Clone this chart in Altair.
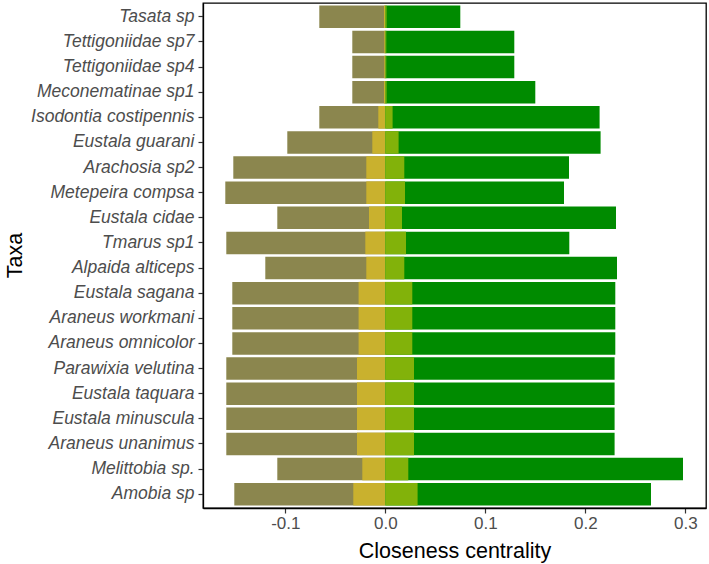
import altair as alt
import pandas as pd

taxa = ["Tasata sp", "Tettigoniidae sp7", "Tettigoniidae sp4", "Meconematinae sp1",
        "Isodontia costipennis", "Eustala guarani", "Arachosia sp2", "Metepeira compsa",
        "Eustala cidae", "Tmarus sp1", "Alpaida alticeps", "Eustala sagana",
        "Araneus workmani", "Araneus omnicolor", "Parawixia velutina", "Eustala taquara",
        "Eustala minuscula", "Araneus unanimus", "Melittobia sp.", "Amobia sp"]

neg_outer = [-0.066, -0.033, -0.033, -0.033, -0.066, -0.098, -0.152, -0.160, -0.108, -0.159,
             -0.120, -0.153, -0.153, -0.153, -0.159, -0.159, -0.159, -0.159, -0.108, -0.151]
neg_inner = [-0.0013, -0.001, -0.001, -0.0013, -0.007, -0.013, -0.019, -0.019, -0.0163, -0.020,
             -0.019, -0.0267, -0.0267, -0.0267, -0.0283, -0.0283, -0.0283, -0.0283, -0.023, -0.032]
pos_inner = [0.0013, 0.001, 0.001, 0.0013, 0.0073, 0.0133, 0.019, 0.0197, 0.0167, 0.0207,
             0.019, 0.027, 0.027, 0.027, 0.0287, 0.0287, 0.0287, 0.0287, 0.023, 0.0323]
pos_outer = [0.075, 0.129, 0.129, 0.150, 0.2143, 0.2153, 0.1837, 0.1787, 0.2307, 0.184,
             0.2317, 0.230, 0.230, 0.230, 0.2293, 0.2293, 0.2293, 0.2293, 0.2977, 0.2657]

x_ticks = [-0.1, 0.0, 0.1, 0.2, 0.3]

df = pd.DataFrame({"taxon": taxa, "neg_outer": neg_outer, "neg_inner": neg_inner,
                   "pos_inner": pos_inner, "pos_outer": pos_outer})

xscale = alt.Scale(domain=[-0.1823, 0.3207], nice=False, zero=False)
yscale = alt.Scale(paddingInner=0.1, paddingOuter=0.1)

xaxis = alt.Axis(values=x_ticks, title="Closeness centrality", grid=False,
                 labelExpr="datum.value < 0 ? '-' + format(-datum.value, '.1f') : format(datum.value, '.1f')",
                 labelFontSize=17, labelColor="#4D4D4D", labelPadding=2,
                 tickSize=5, tickColor="#333333", tickWidth=1.2,
                 domainColor="#000000", domainWidth=1.3,
                 titleFontSize=21.5, titleFontWeight="normal", titleColor="#000000",
                 titleY=49, titleBaseline="alphabetic")
yaxis = alt.Axis(title="Taxa", grid=False, labelFontSize=17.5, labelFontStyle="italic",
                 labelColor="#4D4D4D", labelPadding=4, tickSize=5, tickColor="#333333",
                 tickWidth=1.2, domainColor="#000000", domainWidth=1.3,
                 titleFontSize=21.5, titleFontWeight="normal", titleColor="#000000",
                 titleX=-182, titleY=252, titleBaseline="alphabetic", titleAlign="center")

base = alt.Chart(df)

def layer(field, color):
    return base.mark_bar(color=color).encode(
        x=alt.X(f"{field}:Q", scale=xscale, axis=xaxis),
        x2=alt.datum(0),
        y=alt.Y("taxon:N", sort=taxa, scale=yscale, axis=yaxis),
    )

chart = alt.layer(
    layer("neg_outer", "#8B864E"),
    layer("neg_inner", "#C9B12E"),
    layer("pos_outer", "#008B00"),
    layer("pos_inner", "#82B20A"),
).properties(
    width=503, height=505,
    autosize=alt.AutoSizeParams(type="none"),
    padding={"left": 203, "top": 3, "right": 3, "bottom": 56},
).configure(
    font="Liberation Sans", background="white"
).configure_view(
    stroke="#000000", strokeWidth=1.3
)

chart.save("out.html", embed_options={"renderer": "svg", "actions": False})
